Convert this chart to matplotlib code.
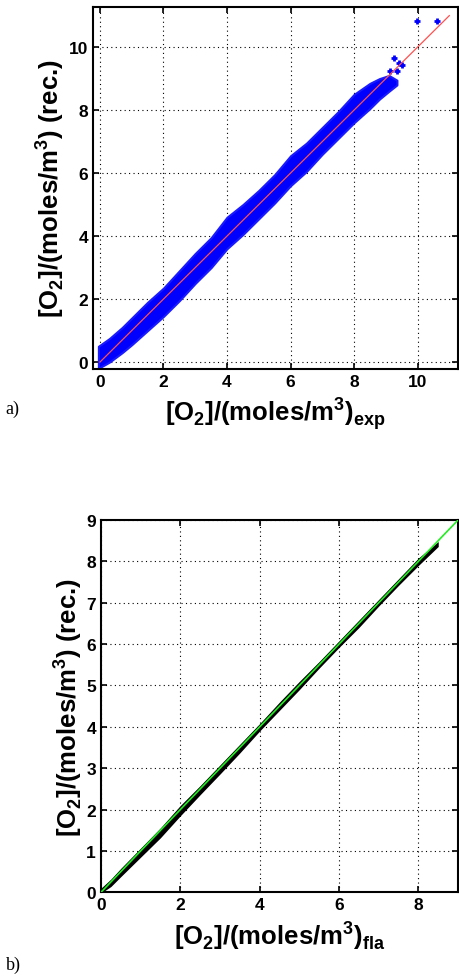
import matplotlib
matplotlib.use("Agg")
import matplotlib.pyplot as plt

# panel a) : reconstructed vs experimental, blue point cloud read as a band
exp_x = [-0.05, 0.3, 0.7, 1.0, 1.5, 2.0, 2.5, 3.0, 3.5, 4.0, 4.5, 5.0, 5.5,
         6.0, 6.5, 7.0, 7.5, 8.0, 8.5, 8.8, 9.1, 9.35]
exp_lo = [-0.2, 0.0, 0.3, 0.55, 1.0, 1.45, 1.95, 2.5, 3.0, 3.6, 4.05, 4.55,
          5.05, 5.6, 6.05, 6.6, 7.1, 7.6, 8.05, 8.35, 8.6, 8.8]
exp_hi = [0.5, 0.75, 1.1, 1.4, 1.9, 2.35, 2.9, 3.45, 3.95, 4.6, 5.0, 5.45,
          5.95, 6.55, 6.95, 7.45, 7.95, 8.5, 8.85, 9.0, 9.1, 8.95]
out_x = [9.97, 10.62, 9.26, 9.40, 9.52, 9.13, 9.35]
out_y = [10.82, 10.82, 9.65, 9.50, 9.44, 9.23, 9.23]
ref_a = [0, 11]

# panel b) : reconstructed vs flamelet, thin black band
fla_x = [0.0, 0.25, 0.5, 1.0, 1.5, 2.0, 2.5, 3.0, 3.5, 4.0, 4.5, 5.0, 5.5,
         6.0, 6.5, 7.0, 7.5, 8.0, 8.5]
fla_lo = [-0.02, 0.14, 0.38, 0.85, 1.32, 1.85, 2.36, 2.86, 3.37, 3.9, 4.4,
          4.9, 5.42, 5.92, 6.4, 6.92, 7.42, 7.9, 8.36]
fla_hi = [0.1, 0.32, 0.58, 1.07, 1.56, 2.1, 2.58, 3.08, 3.58, 4.08, 4.6,
          5.1, 5.58, 6.08, 6.58, 7.08, 7.58, 8.08, 8.48]
ref_b = [0, 9]

plt.rcParams["font.family"] = "Liberation Sans"
plt.rcParams["mathtext.fontset"] = "custom"
plt.rcParams["mathtext.rm"] = "Liberation Sans:bold"
plt.rcParams["mathtext.bf"] = "Liberation Sans:bold"

label_font = dict(size=18.5, weight="bold")

fig = plt.figure(figsize=(4.59, 9.78), dpi=100)


def style_axes(ax, lim, xticks, yticks):
    ax.set_xlim(lim)
    ax.set_ylim(lim)
    ax.set_xticks(xticks)
    ax.set_yticks(yticks)
    ax.grid(True, color="black", linestyle=(0, (1, 3)), linewidth=0.8)
    ax.tick_params(direction="in", top=True, right=True, length=4, width=1.2,
                   labelsize=12.5)
    for lab in ax.get_xticklabels() + ax.get_yticklabels():
        lab.set_fontweight("bold")
    for sp in ax.spines.values():
        sp.set_linewidth(1.5)


ylab = r"[O$_\mathregular{2}$]/(moles/m$^\mathregular{3}$) (rec.)"

ax1 = fig.add_axes([0.2026, 0.6217, 0.795, 0.370])
ax1.fill_between(exp_x, exp_lo, exp_hi, color="#0000ff", lw=1.5,
                 edgecolor="#1a1aff", zorder=2)
ax1.plot(out_x, out_y, "+", color="#0000ff", ms=5, mew=2, zorder=3)
ax1.plot(ref_a, ref_a, color="#ff5050", lw=0.9, zorder=4)
style_axes(ax1, (-0.22, 11.27), [0, 2, 4, 6, 8, 10], [0, 2, 4, 6, 8, 10])
ax1.set_ylabel(ylab, **label_font, labelpad=2)
ax1.set_xlabel(r"[O$_\mathregular{2}$]/(moles/m$^\mathregular{3}$)$_\mathregular{exp}$",
               **label_font, labelpad=4)
fig.text(0.012, 0.577, "a)", family="Liberation Serif", fontsize=13)

ax2 = fig.add_axes([0.22, 0.0866, 0.778, 0.3807])
ax2.fill_between(fla_x, fla_lo, fla_hi, color="black", lw=0, zorder=2)
ax2.plot(ref_b, ref_b, color="#22ee22", lw=1.2, zorder=4)
style_axes(ax2, (0, 9), [0, 2, 4, 6, 8], list(range(10)))
ax2.set_ylabel(ylab, **label_font, labelpad=2)
ax2.set_xlabel(r"[O$_\mathregular{2}$]/(moles/m$^\mathregular{3}$)$_\mathregular{fla}$",
               **label_font, labelpad=4)
fig.text(0.012, 0.008, "b)", family="Liberation Serif", fontsize=13)

fig.savefig("out.png", dpi=100)
